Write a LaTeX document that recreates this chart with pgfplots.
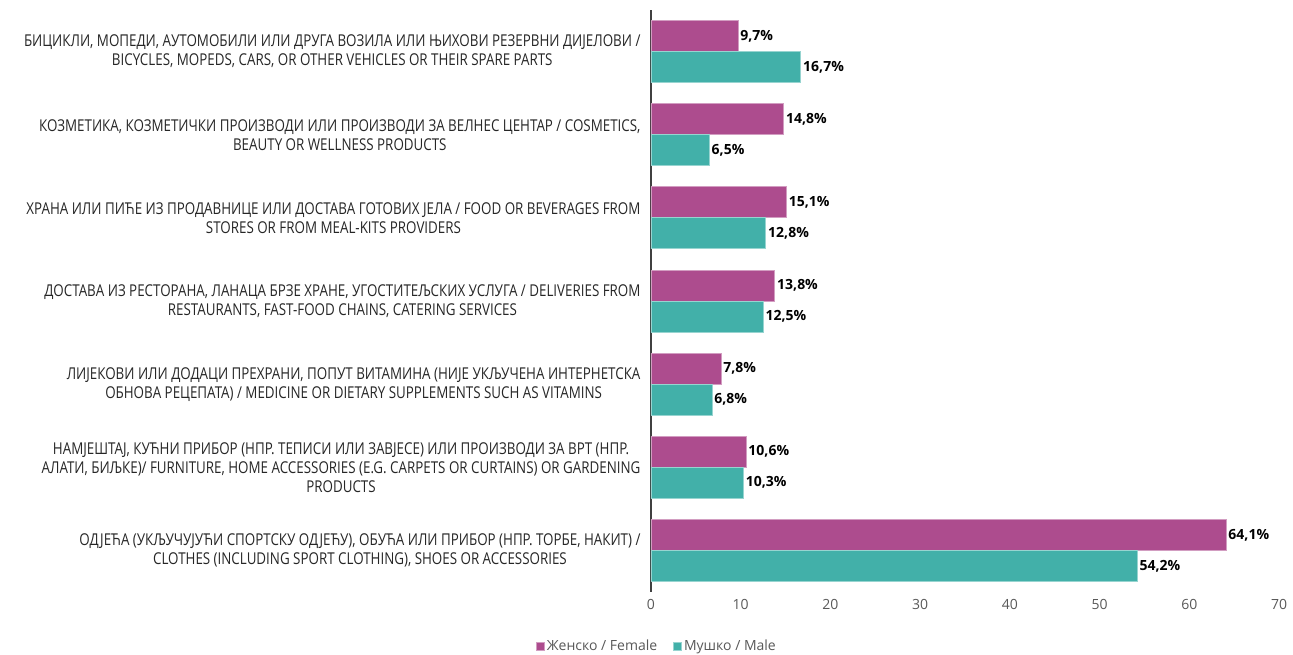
\documentclass[border=0pt]{standalone}
\usepackage{fontspec}
\setmainfont{Open Sans}[FakeStretch=0.82]
\newfontfamily\numfont{Open Sans}
\usepackage{pgfplots}
\pgfplotsset{compat=1.18}
\definecolor{fem}{HTML}{AD4C8E}
\definecolor{mal}{HTML}{42B0A9}
\definecolor{txt}{HTML}{595959}

\pgfplotstableread{
idx female male
0 9.7 16.7
1 14.8 6.5
2 15.1 12.8
3 13.8 12.5
4 7.8 6.8
5 10.6 10.3
6 64.1 54.2
}\shares

\begin{document}
\begin{tikzpicture}
\useasboundingbox (0,0) rectangle (1293pt,654pt);
\begin{axis}[
    at={(651pt,62pt)}, anchor=south west,
    scale only axis, width=628pt, height=582pt,
    xbar, bar width=31pt,
    xmin=0, xmax=70, xtick={0,10,...,70},
    ymin=-0.5, ymax=6.5, y dir=reverse,
    ytick={0,...,6},
    yticklabels={
      {БИЦИКЛИ, МОПЕДИ, АУТОМОБИЛИ ИЛИ ДРУГА ВОЗИЛА ИЛИ ЊИХОВИ РЕЗЕРВНИ ДИЈЕЛОВИ /\\BICYCLES, MOPEDS, CARS, OR OTHER VEHICLES OR THEIR SPARE PARTS},
      {КОЗМЕТИКА, КОЗМЕТИЧКИ ПРОИЗВОДИ ИЛИ ПРОИЗВОДИ ЗА ВЕЛНЕС ЦЕНТАР / COSMETICS,\\BEAUTY OR WELLNESS PRODUCTS},
      {ХРАНА ИЛИ ПИЋЕ ИЗ ПРОДАВНИЦЕ ИЛИ ДОСТАВА ГОТОВИХ ЈЕЛА / FOOD OR BEVERAGES FROM\\STORES OR FROM MEAL-KITS PROVIDERS},
      {ДОСТАВА ИЗ РЕСТОРАНА, ЛАНАЦА БРЗЕ ХРАНЕ, УГОСТИТЕЉСКИХ УСЛУГА / DELIVERIES FROM\\RESTAURANTS, FAST-FOOD CHAINS, CATERING SERVICES},
      {ЛИЈЕКОВИ ИЛИ ДОДАЦИ ПРЕХРАНИ, ПОПУТ ВИТАМИНА (НИЈЕ УКЉУЧЕНА ИНТЕРНЕТСКА\\ОБНОВА РЕЦЕПАТА) / MEDICINE OR DIETARY SUPPLEMENTS SUCH AS VITAMINS},
      {НАМЈЕШТАЈ, КУЋНИ ПРИБОР (НПР. ТЕПИСИ ИЛИ ЗАВЈЕСЕ) ИЛИ ПРОИЗВОДИ ЗА ВРТ (НПР.\\АЛАТИ, БИЉКЕ)/ FURNITURE, HOME ACCESSORIES (E.G. CARPETS OR CURTAINS) OR GARDENING\\PRODUCTS},
      {ОДЈЕЋА (УКЉУЧУЈУЋИ СПОРТСКУ ОДЈЕЋУ), ОБУЋА ИЛИ ПРИБОР (НПР. ТОРБЕ, НАКИТ) /\\CLOTHES (INCLUDING SPORT CLOTHING), SHOES OR ACCESSORIES}
    },
    yticklabel style={align=center, font=\fontsize{16.3}{19}\selectfont, text=black!85, xshift=-7pt},
    xticklabel style={font=\numfont\fontsize{14}{16}\selectfont, text=txt, yshift=-4pt},
    /pgf/number format/assume math mode=true,
    major tick length=0pt,
    axis lines*=left,
    x axis line style={draw=none},
    y axis line style={draw=black!75, line width=2.2pt},
    nodes near coords={\pgfmathprintnumber[fixed,fixed zerofill,precision=1,use comma]{\pgfplotspointmeta}\%},
    nodes near coords style={font=\numfont\bfseries\fontsize{14}{16}\selectfont, text=black, inner xsep=2pt},
    legend style={at={(0.0095,-0.093)}, anchor=center, draw=none, legend columns=2,
      font=\numfont\fontsize{14}{16}\selectfont, text=txt,
      /tikz/every even column/.append style={column sep=14pt}},
    legend image code/.code={\fill[#1] (0pt,-4pt) rectangle (8pt,4pt);},
]
\addplot[fill=fem, draw=fem!55!white, line width=0.8pt, bar shift=15.5pt] table[x=female, y=idx] {\shares};
\addplot[fill=mal, draw=mal!55!white, line width=0.8pt, bar shift=-15.5pt] table[x=male, y=idx] {\shares};
\legend{Женско / Female, Мушко / Male}
\end{axis}
\end{tikzpicture}
\end{document}
